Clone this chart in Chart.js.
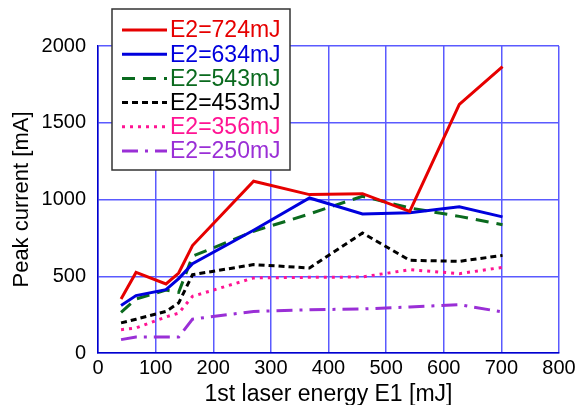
<!DOCTYPE html>
<html>
<head>
<meta charset="utf-8">
<script src="https://cdn.jsdelivr.net/npm/chart.js@4.4.1/dist/chart.umd.min.js"></script>
<style>
  html, body { margin: 0; padding: 0; background: #fff; }
  #wrap { width: 580px; height: 405px; }
</style>
</head>
<body>
<div id="wrap"><canvas id="chart" width="580" height="405"></canvas></div>
<script>
// 1st laser energy E1 [mJ]
const energyE1 = [40, 66, 118, 140, 164, 270, 367, 459, 541, 627, 702];

// Peak current [mA] for each E2 setting
const e2_724 = [352, 525, 450, 521, 700, 1119, 1032, 1038, 923, 1619, 1866];
const e2_634 = [310, 374, 413, 485, 582, 800, 1010, 906, 913, 952, 887];
const e2_543 = [265, 352, 410, 395, 630, 793, 906, 1021, 945, 890, 836];
const e2_453 = [196, 220, 271, 326, 510, 576, 554, 782, 604, 597, 636];
const e2_356 = [152, 163, 235, 260, 369, 489, 493, 495, 543, 517, 558];
const e2_250 = [87, 104, 104, 104, 221, 271, 282, 287, 300, 315, 267];

const seriesLabels = ["E2=724mJ", "E2=634mJ", "E2=543mJ", "E2=453mJ", "E2=356mJ", "E2=250mJ"];
const xTicks = [0, 100, 200, 300, 400, 500, 600, 700, 800];
const yTicks = [0, 500, 1000, 1500, 2000];

const FONT = "Liberation Sans, Arial, Helvetica, sans-serif";

function toPoints(values) {
    return values.map((v, i) => ({ x: energyE1[i], y: v }));
}

const styles = [
    { color: "#e60000", dash: [] },
    { color: "#0000dd", dash: [] },
    { color: "#0a6a1e", dash: [13, 8] },
    { color: "#000000", dash: [6, 4] },
    { color: "#ff1493", dash: [3, 5] },
    { color: "#9a2fd6", dash: [16, 7, 3, 7] },
];

const allValues = [e2_724, e2_634, e2_543, e2_453, e2_356, e2_250];

const datasets = allValues.map((vals, i) => ({
    label: seriesLabels[i],
    data: toPoints(vals),
    borderColor: styles[i].color,
    borderDash: styles[i].dash,
    borderWidth: 3,
    pointRadius: 0,
    tension: 0,
    fill: false,
}));

// legend box drawn in the top-left, over the plot
const boxLegend = {
    id: "boxLegend",
    afterDraw(chart) {
        const ctx = chart.ctx;
        const left = 112, top = 9, right = 290, bottom = 170;
        ctx.save();
        ctx.fillStyle = "#fff";
        ctx.fillRect(left, top, right - left, bottom - top);
        ctx.strokeStyle = "#333";
        ctx.lineWidth = 1.5;
        ctx.strokeRect(left, top, right - left, bottom - top);
        ctx.font = "23px " + FONT;
        ctx.textBaseline = "middle";
        ctx.textAlign = "left";
        chart.data.datasets.forEach((ds, i) => {
            const y = 30 + i * 24.2;
            ctx.beginPath();
            ctx.setLineDash(ds.borderDash);
            ctx.strokeStyle = ds.borderColor;
            ctx.lineWidth = 3;
            ctx.moveTo(122, y);
            ctx.lineTo(167, y);
            ctx.stroke();
            ctx.setLineDash([]);
            ctx.fillStyle = ds.borderColor;
            ctx.fillText(ds.label, 170, y + 1);
        });
        ctx.restore();
    },
};

new Chart(document.getElementById("chart"), {
    type: "line",
    data: { datasets },
    options: {
        responsive: false,
        animation: false,
        layout: { padding: { left: 0, top: 46, right: 21, bottom: 0 } },
        plugins: {
            legend: { display: false },
            tooltip: { enabled: false },
        },
        scales: {
            x: {
                type: "linear",
                min: 0,
                max: 800,
                afterBuildTicks: (axis) => { axis.ticks = xTicks.map((v) => ({ value: v })); },
                afterFit: (axis) => { axis.height = 52; },
                ticks: {
                    padding: 3,
                    color: "#000",
                    font: { family: FONT, size: 20 },
                    maxRotation: 0,
                    callback: (v) => String(v),
                },
                grid: { color: "#5a5aff", lineWidth: 1.5, drawTicks: false },
                border: { color: "#0000cc", width: 1.5 },
                title: {
                    display: true,
                    text: "1st laser energy E1 [mJ]",
                    color: "#000",
                    font: { family: FONT, size: 23 },
                    padding: { top: 0, bottom: -3 },
                },
            },
            y: {
                type: "linear",
                min: 0,
                max: 2000,
                afterBuildTicks: (axis) => { axis.ticks = yTicks.map((v) => ({ value: v })); },
                afterFit: (axis) => { axis.width = 98; },
                ticks: {
                    padding: 12,
                    color: "#000",
                    font: { family: FONT, size: 20 },
                    callback: (v) => String(v),
                },
                grid: { color: "#5a5aff", lineWidth: 1.5, drawTicks: false },
                border: { color: "#0000cc", width: 1.5 },
                title: {
                    display: true,
                    text: "Peak current [mA]",
                    color: "#000",
                    font: { family: FONT, size: 22 },
                    padding: { top: 9, bottom: 0 },
                },
            },
        },
    },
    plugins: [boxLegend],
});
</script>
</body>
</html>
